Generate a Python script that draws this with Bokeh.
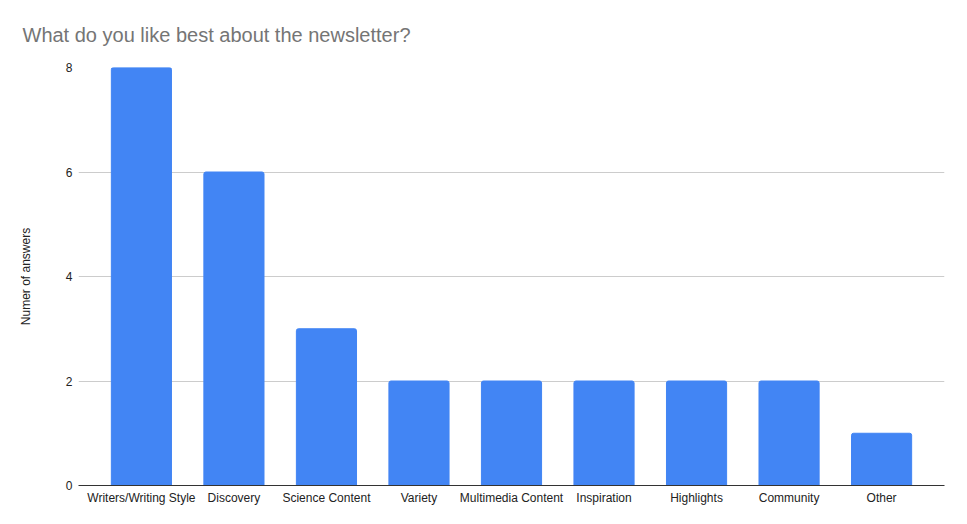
from bokeh.plotting import figure
from bokeh.models import FactorRange, ColumnDataSource
from bokeh.embed import file_html
from bokeh.resources import INLINE

categories = ["Writers/Writing Style", "Discovery", "Science Content", "Variety",
              "Multimedia Content", "Inspiration", "Highlights", "Community", "Other"]
answers = [8, 6, 3, 2, 2, 2, 2, 2, 1]
y_ticks = [0, 2, 4, 6, 8]

FONT = "Liberation Sans"

source = ColumnDataSource(data=dict(cat=categories, n=answers))

p = figure(
    width=967, height=524,
    x_range=FactorRange(factors=categories, range_padding=0.18,
                        range_padding_units="absolute"),
    y_range=(0, 8),
    output_backend="svg", toolbar_location=None,
    min_border_left=78, min_border_right=23, min_border_top=67, min_border_bottom=39,
)

p.vbar(x="cat", top="n", width=0.65, source=source, color="#4285F4",
       border_radius=(2, 2, 0, 0))

p.title.text = "What do you like best about the newsletter?"
p.title.text_font = FONT
p.title.text_font_size = "20px"
p.title.text_font_style = "normal"
p.title.text_color = "#757575"
p.title.align = "left"
p.title.offset = -56
p.title.standoff = 43

p.outline_line_color = None
p.xgrid.grid_line_color = None
p.ygrid.grid_line_color = "#cccccc"
p.ygrid.ticker = y_ticks

p.yaxis.ticker = y_ticks
p.yaxis.axis_line_color = None
p.yaxis.major_tick_line_color = None
p.yaxis.major_tick_out = 0
p.yaxis.major_tick_in = 0
p.yaxis.minor_tick_line_color = None
p.yaxis.major_label_text_font = FONT
p.yaxis.major_label_text_font_size = "12px"
p.yaxis.major_label_text_color = "#222222"
p.yaxis.major_label_standoff = 6
p.yaxis.axis_label = "Numer of answers"
p.yaxis.axis_label_text_font = FONT
p.yaxis.axis_label_text_font_size = "12px"
p.yaxis.axis_label_text_font_style = "normal"
p.yaxis.axis_label_text_color = "#222222"
p.yaxis.axis_label_standoff = 30

p.xaxis.axis_line_color = "#333333"
p.xaxis.major_tick_line_color = None
p.xaxis.major_tick_out = 0
p.xaxis.major_tick_in = 0
p.xaxis.minor_tick_line_color = None
p.xaxis.major_label_text_font = FONT
p.xaxis.major_label_text_font_size = "12px"
p.xaxis.major_label_text_color = "#222222"
p.xaxis.major_label_standoff = 5

open("out.html", "w").write(file_html(p, INLINE))
